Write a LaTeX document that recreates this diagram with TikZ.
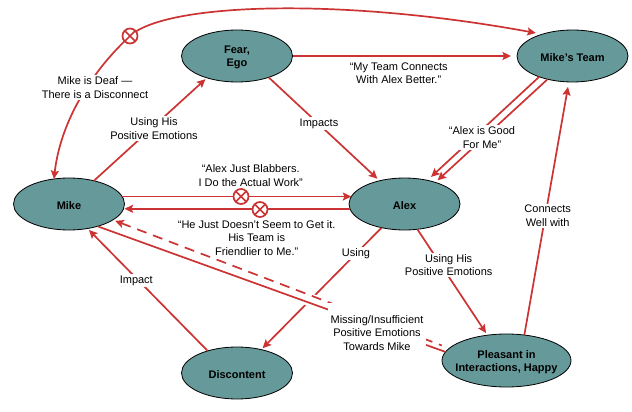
\documentclass[tikz,border=0pt]{standalone}
\usepackage{fontspec}
\setmainfont{Liberation Sans}
\usetikzlibrary{shapes.geometric,arrows.meta}
\definecolor{linered}{RGB}{204,51,51}
\definecolor{statefill}{RGB}{102,153,153}
\newcommand{\statestrut}{\rule{0pt}{11pt}}
\tikzset{
    feeling/.style={ellipse, draw=black, line width=0.8pt, fill=statefill, minimum width=111pt, minimum height=52pt, inner sep=0pt, outer sep=0pt, align=center, font=\fontsize{11}{13.3}\selectfont\bfseries},
    flow/.style={draw=linered, line width=1.7pt, shorten >=2pt},
    gapline/.style={draw=white, line width=13pt, shorten <=150pt, shorten >=100pt},
    saying/.style={fill=white, inner xsep=1pt, inner ysep=1.5pt, align=center, font=\fontsize{11}{13.3}\selectfont},
    noentry/.style={circle, draw=linered, line width=1.7pt, fill=white, minimum size=15pt, inner sep=0pt,
        path picture={\draw[linered, line width=1.7pt] (path picture bounding box.north west) -- (path picture bounding box.south east) (path picture bounding box.north east) -- (path picture bounding box.south west);}},
}
\begin{document}
\begin{tikzpicture}[x=1pt, y=-1pt, >={Stealth[length=8.5pt, width=8pt, inset=1.5pt]}]
    \useasboundingbox (0,0) rectangle (632,412);
    \path (69,204) node[feeling] (mike) {\statestrut Mike};
    \path (237,56) node[feeling] (fear) {\statestrut Fear,\\Ego};
    \path (572.5,56) node[feeling] (team) {\statestrut Mike's Team};
    \path (404.5,204) node[feeling] (alex) {\statestrut Alex};
    \path (237,373) node[feeling] (discontent) {\statestrut Discontent};
    \path (506.5,360.5) node[feeling, minimum width=129pt, minimum height=53pt] (pleasant) {\statestrut\makebox[0pt]{Pleasant in}\\\makebox[0pt]{Interactions, Happy}};
    \coordinate (deafcross) at (130,36);

    \draw[flow,->] (alex.226.8) -- (discontent.44);
    \draw[gapline] (mike.-30) -- (pleasant.170);
    \draw[flow,->] (discontent.143.7) -- (mike.-53.8);
    \draw[flow,<->, shorten >=0pt] (mike.121) .. controls (60,125) and (88,75) .. (deafcross) .. controls (165,3) and (340,-3) .. ([yshift=3.5pt]team.152);
    \draw[flow,->] (mike.43) -- (fear.216);
    \draw[flow,->, shorten >=6pt] (fear.east) -- (team.west);
    \draw[flow,->, shorten >=3pt] (fear.-34) -- (alex.137);
    \draw[flow,->, shorten >=5pt] (team.212) -- (alex.46.6);
    \draw[flow,->, shorten >=3pt] (team.223) -- (alex.35.6);
    \draw[flow,->, shorten >=0pt] (mike.8) -- (alex.172);
    \draw[flow,->, shorten >=1pt] (alex.185.6) -- (mike.-5.6);
    \draw[flow, shorten >=0pt] (mike.-38) -- (pleasant.172);
    \draw[flow,<-, shorten <=2.5pt, shorten >=8pt, dash pattern=on 10pt off 7pt] (mike.-20) -- (pleasant.168.8);
    \draw[flow,->, shorten >=2.5pt] (alex.-63) -- (pleasant.127);
    \draw[flow,->, shorten >=5pt] (pleasant.55) -- (team.-98);

    \path (deafcross) node[noentry] (deafmark) {};
    \path (241,196.5) node[noentry] (blabbermark) {};
    \path (260,209.5) node[noentry] (friendlymark) {};

    \path (95,87.5) node[saying] (deaf) {Mike is Deaf ---\\There is a Disconnect};
    \path (154,128.5) node[saying] (fearusing) {Using His\\Positive Emotions};
    \path (319,123.5) node[saying] (impacts) {Impacts};
    \path (398.7,73.2) node[saying, fill=none] (connects) {“My Team Connects\\With Alex Better.”};
    \path (482,137.5) node[saying] (good) {“Alex is Good\\For Me”};
    \path (250.7,175.5) node[saying, fill=none] (blabbers) {“Alex Just Blabbers.\\I Do the Actual Work”};
    \path (256.7,237.8) node[saying, fill=none] (friendly) {“He Just Doesn't Seem to Get it.\\His Team is\\Friendlier to Me.”};
    \path (356,253.8) node[saying] (using) {Using};
    \path (448.7,264.8) node[saying] (pleasantusing) {Using His\\Positive Emotions};
    \path (547.7,215.8) node[saying] (well) {Connects\\Well with};
    \path (377,332.8) node[saying, inner xsep=3pt, inner ysep=12.5pt] (missing) {Missing/Insufficient\\Positive Emotions\\Towards Mike};
    \path (136.3,280.8) node[saying] (impact) {Impact};
\end{tikzpicture}
\end{document}
